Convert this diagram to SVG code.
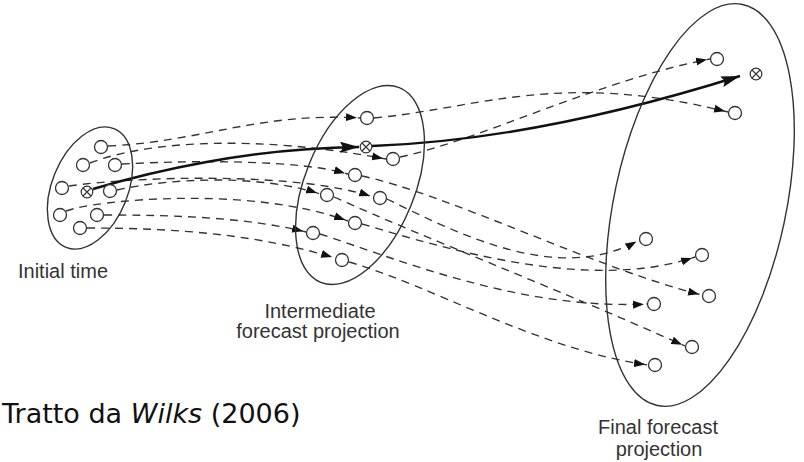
<svg xmlns="http://www.w3.org/2000/svg" xmlns:xlink="http://www.w3.org/1999/xlink" width="804" height="462" viewBox="0 0 804 462">
<style>
.ell{fill:none;stroke:#333;stroke-width:1.4}
.mem{fill:#fff;stroke:#333;stroke-width:1.3}
.ctr circle{fill:#fff;stroke:#333;stroke-width:1.2}
.ctr path{stroke:#333;stroke-width:1.1;fill:none}
.traj{fill:none;stroke:#333;stroke-width:1.35;stroke-dasharray:8 6;marker-end:url(#ah)}
.main{fill:none;stroke:#111;stroke-width:2.4;marker-end:url(#big)}
.lbl{font-family:"Liberation Sans",Arial,sans-serif;font-size:20px;fill:#333}
.src{font-family:"DejaVu Sans",Verdana,sans-serif;font-size:27px;fill:#111}
</style>
<defs>
<marker id="ah" viewBox="0 0 15 9" refX="14" refY="4.5" markerWidth="15" markerHeight="9" markerUnits="userSpaceOnUse" orient="auto"><path d="M0,0.5 L11,4.5 L0,8.5 z" fill="#111"/></marker>
<marker id="big" viewBox="0 0 19 11" refX="19" refY="5.5" markerWidth="19" markerHeight="11" markerUnits="userSpaceOnUse" orient="auto"><path d="M0,0 L19,5.5 L0,11 L3,5.5 z" fill="#111"/></marker>
<g id="otimes" class="ctr"><circle r="5.8"/><path d="M-4,-4 L4,4 M4,-4 L-4,4"/></g>
</defs>
<rect width="804" height="462" fill="#fff"/>

<g id="connectors">
<!-- initial -> intermediate -->
<path class="traj" d="M108,146 C200,142 260,112 360,118"/>
<path class="traj" d="M90,163 C150,140 260,135 386,159"/>
<path class="traj" d="M122,164 C200,160 300,160 348,174"/>
<path class="traj" d="M69,186 C140,176 300,172 373,197"/>
<path class="traj" d="M117,190 C170,178 260,174 320,194"/>
<path class="traj" d="M66,211 C95,200 250,185 348,221"/>
<path class="traj" d="M104,215 C180,215 250,218 306,232"/>
<path class="traj" d="M87,228 C180,228 260,235 335,258"/>
<!-- intermediate -> final -->
<path class="traj" d="M374,118 C480,108 560,70 728,112"/>
<path class="traj" d="M400,157 C480,140 600,80 710,59"/>
<path class="traj" d="M362,176 C450,195 600,270 702,295"/>
<path class="traj" d="M387,199 C460,235 560,285 639,240"/>
<path class="traj" d="M362,224 C450,250 590,292 695,257"/>
<path class="traj" d="M334,197 C430,240 560,290 685,346"/>
<path class="traj" d="M320,234 C400,260 520,310 647,304"/>
<path class="traj" d="M349,262 C430,285 540,350 648,365"/>
<!-- central trajectory -->
<path class="main" d="M93,189 C150,172 250,148 359,147"/>
<path class="main" d="M372,146 C480,142 600,120 740,76"/>
</g>

<g id="initial">
<ellipse class="ell" cx="0" cy="0" rx="64" ry="38" transform="translate(90,188) rotate(-68)"/>
<circle class="mem" cx="101" cy="147" r="6.5"/>
<circle class="mem" cx="83" cy="165" r="6.5"/>
<circle class="mem" cx="115" cy="165" r="6.5"/>
<circle class="mem" cx="62" cy="188" r="6.5"/>
<circle class="mem" cx="110" cy="191" r="6.5"/>
<circle class="mem" cx="60" cy="215" r="6.5"/>
<circle class="mem" cx="97" cy="215" r="6.5"/>
<circle class="mem" cx="80" cy="228" r="6.5"/>
<use xlink:href="#otimes" x="87" y="192"/>
<text class="lbl" x="18" y="278">Initial time</text>
</g>

<g id="intermediate">
<ellipse class="ell" cx="0" cy="0" rx="105" ry="55" transform="translate(360,185) rotate(-68)"/>
<circle class="mem" cx="367" cy="118" r="6.5"/>
<circle class="mem" cx="393" cy="159" r="6.5"/>
<circle class="mem" cx="355" cy="175" r="6.5"/>
<circle class="mem" cx="327" cy="195" r="6.5"/>
<circle class="mem" cx="380" cy="198" r="6.5"/>
<circle class="mem" cx="355" cy="223" r="6.5"/>
<circle class="mem" cx="313" cy="233" r="6.5"/>
<circle class="mem" cx="342" cy="260" r="6.5"/>
<use xlink:href="#otimes" x="366" y="147"/>
<text class="lbl" x="320" y="318" text-anchor="middle">Intermediate</text>
<text class="lbl" x="318" y="338" text-anchor="middle">forecast projection</text>
</g>

<g id="final">
<ellipse class="ell" cx="0" cy="0" rx="205" ry="86" transform="translate(700,205) rotate(-78)"/>
<circle class="mem" cx="717" cy="59" r="6.5"/>
<circle class="mem" cx="735" cy="113" r="6.5"/>
<circle class="mem" cx="646" cy="239" r="6.5"/>
<circle class="mem" cx="702" cy="255" r="6.5"/>
<circle class="mem" cx="709" cy="296" r="6.5"/>
<circle class="mem" cx="654" cy="304" r="6.5"/>
<circle class="mem" cx="692" cy="347" r="6.5"/>
<circle class="mem" cx="655" cy="365" r="6.5"/>
<use xlink:href="#otimes" x="756" y="74"/>
<text class="lbl" x="658" y="434" text-anchor="middle">Final forecast</text>
<text class="lbl" x="659" y="456" text-anchor="middle">projection</text>
</g>

<text class="src" x="2" y="423">Tratto da <tspan font-style="italic">Wilks</tspan> (2006)</text>
</svg>
